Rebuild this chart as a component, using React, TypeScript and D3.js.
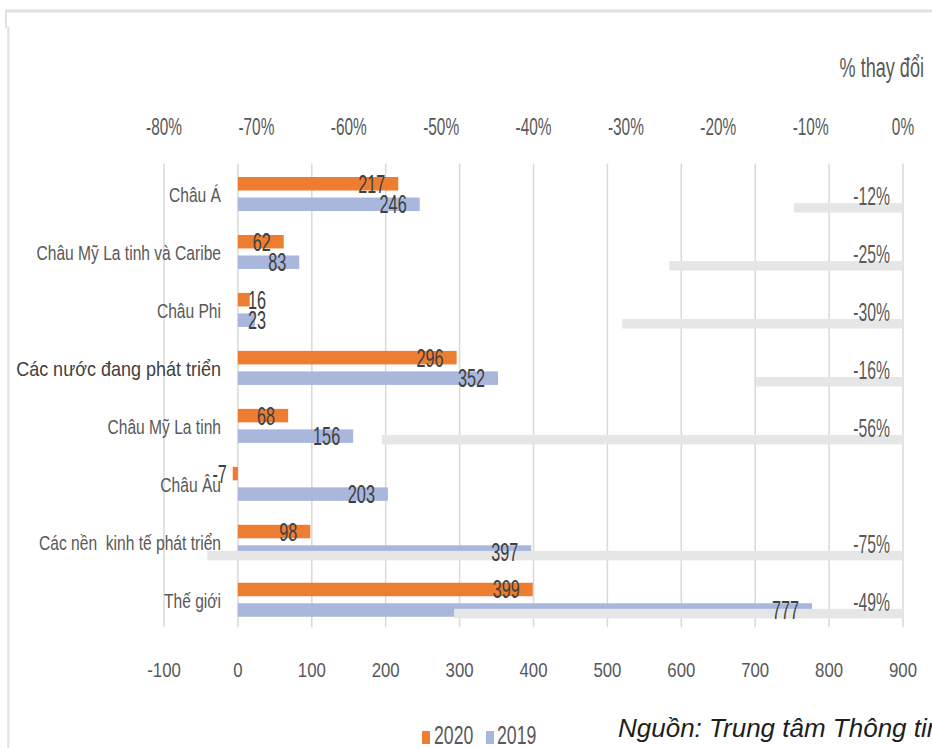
import React from "react";
import * as d3 from "d3";

const categories = [
  "Châu Á",
  "Châu Mỹ La tinh và Caribe",
  "Châu Phi",
  "Các nước đang phát triển",
  "Châu Mỹ La tinh",
  "Châu Âu",
  "Các nền  kinh tế phát triển",
  "Thế giới",
];
const values2020 = [217, 62, 16, 296, 68, -7, 98, 399];
const values2019 = [246, 83, 23, 352, 156, 203, 397, 777];
const pctChange: (number | null)[] = [-11.8, -25.3, -30.4, -15.9, -56.4, null, -75.3, -48.6];
const valueTicks = [-100, 0, 100, 200, 300, 400, 500, 600, 700, 800, 900];
const pctTicks = [-80, -70, -60, -50, -40, -30, -20, -10, 0];
const seriesNames = ["2020", "2019"];

const W = 932;
const H = 748;
const FONT = "'Liberation Sans', Arial, sans-serif";
const ORANGE = "#ed7d31";
const BLUE = "#a9b7dd";
const GRAY = "#e6e6e6";
const GRID = "#d9d9d9";
const TXT = "#595959";
const DARK = "#404040";

function T(props: any) {
  const { x, y, sx = 1, size, anchor = "start", fill = TXT, children, italic, pre, weight } = props;
  return (
    <text
      transform={`translate(${x},${y}) scale(${sx},1)`}
      fontSize={size}
      textAnchor={anchor}
      fill={fill}
      fontFamily={FONT}
      fontStyle={italic ? "italic" : "normal"}
      fontWeight={weight || "normal"}
      style={pre ? { whiteSpace: "pre" } : undefined}
    >
      {children}
    </text>
  );
}

export default function App() {
  const x = d3.scaleLinear().domain([-100, 900]).range([164, 903]);
  const xp = d3.scaleLinear().domain([-80, 0]).range([164, 903]);
  const y = d3.scaleBand<number>().domain(d3.range(categories.length)).range([163.5, 627.2]).padding(0);
  const bw = y.bandwidth();

  const o0 = 0.233 * bw, oh = 0.233 * bw;
  const b0 = 0.587 * bw, bh = 0.233 * bw;
  const g0 = 0.683 * bw, gh = 0.164 * bw;

  const labSize = 25, labSx = 0.65;
  const digitW = 0.556 * labSize * labSx;
  const textW = (s: string) => s.split("").reduce((a, c) => a + (c === "-" ? 0.333 * labSize * labSx : digitW), 0);

  const valueLabel = (v: number, yc: number, key: string) => {
    const s = String(v);
    const w = textW(s);
    let xe: number;
    if (v >= 0) {
      xe = Math.max(x(v) - 13, x(0) + 10 + w);
    } else {
      xe = x(0) - 11;
    }
    return (
      <T key={key} x={xe} y={yc + 9} sx={labSx} size={labSize} anchor="end" fill={DARK}>
        {s}
      </T>
    );
  };

  return (
    <svg width={W} height={H} style={{ position: "absolute", left: 0, top: 0, background: "#fff" }}>
      <rect x={0} y={0} width={W} height={H} fill="#fff" />
      {/* frame */}
      <line x1={5} x2={W} y1={11} y2={11} stroke="#e0e0e0" strokeWidth={3} />
      <line x1={6} x2={6} y1={10} y2={28} stroke="#e0e0e0" strokeWidth={2} />
      <line x1={8.3} x2={8.3} y1={27} y2={H} stroke="#e0e0e0" strokeWidth={2} />

      {/* gridlines */}
      {valueTicks.map((t) => (
        <line key={"g" + t} x1={x(t)} x2={x(t)} y1={163.5} y2={627.2} stroke={GRID} strokeWidth={1.5} />
      ))}

      {/* bars */}
      {categories.map((c, i) => {
        const v1 = values2020[i];
        const v2 = values2019[i];
        const yb = y(i)!;
        return (
          <g key={"b" + i}>
            <rect x={Math.min(x(0), x(v1))} y={yb + o0} width={Math.abs(x(v1) - x(0))} height={oh} fill={ORANGE} />
            <rect x={Math.min(x(0), x(v2))} y={yb + b0} width={Math.abs(x(v2) - x(0))} height={bh} fill={BLUE} />
          </g>
        );
      })}
      {categories.map((c, i) => {
        const p = pctChange[i];
        if (p === null) return null;
        const yb = y(i)!;
        return <rect key={"p" + i} x={xp(p)} y={yb + g0} width={xp(0) - xp(p)} height={gh} fill={GRAY} />;
      })}

      {/* data labels */}
      {categories.map((c, i) => {
        const yb = y(i)!;
        return (
          <g key={"l" + i}>
            {valueLabel(values2020[i], yb + o0 + oh / 2, "a" + i)}
            {valueLabel(values2019[i], yb + b0 + bh / 2, "b" + i)}
          </g>
        );
      })}
      {categories.map((c, i) => {
        const p = pctChange[i];
        if (p === null) return null;
        const yb = y(i)!;
        return (
          <T key={"pl" + i} x={xp(0) - 13} y={yb + 41.5} sx={0.63} size={25} anchor="end" fill={TXT}>
            {`${Math.round(p)}%`}
          </T>
        );
      })}

      {/* category labels */}
      {categories.map((c, i) => {
        const yb = y(i)!;
        const special = i === 3;
        return (
          <T
            key={"c" + i}
            x={221}
            y={yb + 38.5}
            sx={special ? 0.9 : 0.8}
            size={special ? 20 : 19.5}
            anchor="end"
            fill={special ? DARK : TXT}
            pre
          >
            {c}
          </T>
        );
      })}

      {/* top axis */}
      {pctTicks.map((t) => (
        <T key={"tp" + t} x={xp(t)} y={135} sx={0.67} size={23} anchor="middle">
          {`${t}%`}
        </T>
      ))}
      <T x={924} y={77} sx={0.67} size={27} anchor="end">
        % thay đổi
      </T>

      {/* bottom axis */}
      {valueTicks.map((t) => (
        <T key={"tb" + t} x={x(t)} y={677} sx={0.8} size={21} anchor="middle">
          {String(t)}
        </T>
      ))}

      {/* legend */}
      <rect x={422} y={731} width={8} height={13} fill={ORANGE} />
      <T x={434} y={744} sx={0.68} size={26}>
        {seriesNames[0]}
      </T>
      <rect x={486} y={731} width={8} height={13} fill={BLUE} />
      <T x={497} y={744} sx={0.68} size={26}>
        {seriesNames[1]}
      </T>

      {/* source */}
      <T x={618} y={737} size={26} italic fill="#1e1e1e">
        Nguồn: Trung tâm Thông tin
      </T>
    </svg>
  );
}
